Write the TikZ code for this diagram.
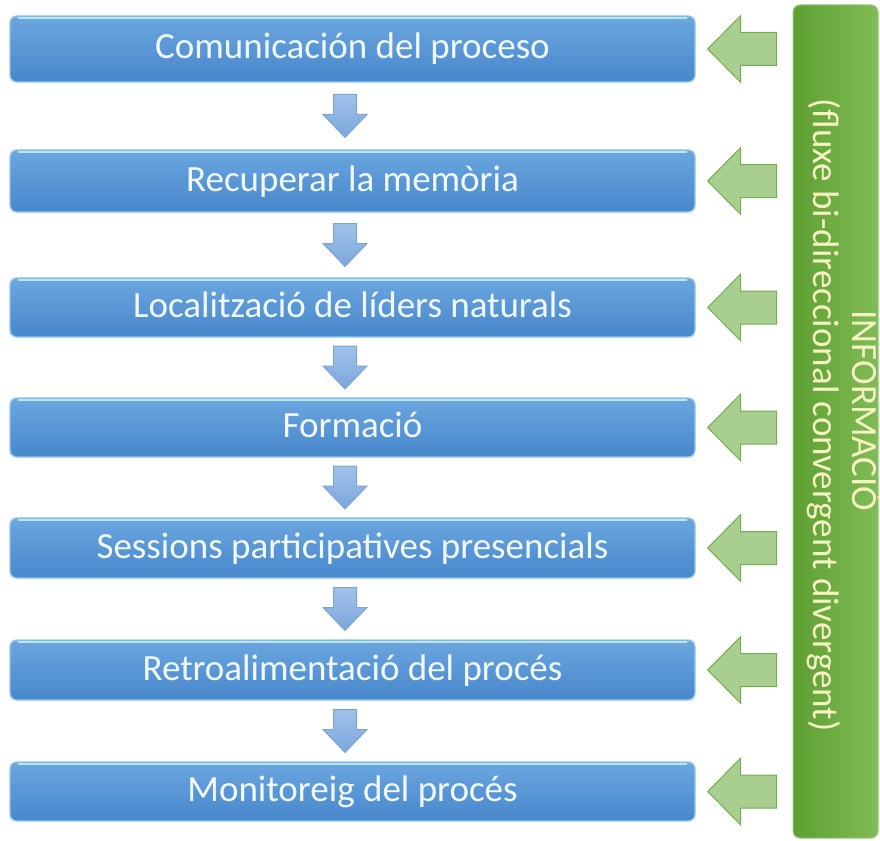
\documentclass[tikz,border=0pt]{standalone}
\usepackage{fontspec}
\setmainfont{Carlito}
\definecolor{boxtop}{HTML}{6BA6DF}
\definecolor{boxbot}{HTML}{4787CB}
\definecolor{boxedge}{HTML}{8EC6F0}
\definecolor{boxhi}{HTML}{B8E6FA}
\definecolor{btxt}{HTML}{F2F8FF}
\definecolor{barleft}{HTML}{5E9F31}
\definecolor{barright}{HTML}{80BC56}
\definecolor{bartxt}{HTML}{F6F2C4}
\definecolor{garfill}{HTML}{A9CF90}
\definecolor{garedge}{HTML}{74AD50}
\definecolor{bartop}{HTML}{A0C2EA}
\definecolor{barbot}{HTML}{7CA6DB}
\definecolor{baredge}{HTML}{7DA4D8}
\tikzset{
  stepbox/.style={rectangle, rounded corners=7pt, top color=boxtop, bottom color=boxbot,
    draw=boxedge, line width=1.4pt, minimum width=685pt, inner sep=0pt,
    text=btxt, font=\fontsize{37}{40}\selectfont, text height=20pt, text depth=0pt},
  boxhilite/.style={draw=boxhi, line width=2pt, line cap=round},
  infobar/.style={rectangle, rounded corners=7pt, left color=barleft, right color=barright,
    draw=barright!80!white, line width=1pt, minimum width=85pt, minimum height=833pt, inner sep=0pt},
  bartext/.style={rotate=-90, anchor=base, text=bartxt, font=\fontsize{37}{40}\selectfont},
  garrowstyle/.style={fill=garfill, draw=garedge, line width=1pt, line join=miter},
  barrowstyle/.style={top color=bartop, bottom color=barbot, draw=baredge, line width=1pt},
  garrow/.pic={\path[garrowstyle] (0,0) -- (33,-33.5) -- (33,-16.5) -- (69,-16.5) -- (69,16.5) -- (33,16.5) -- (33,33.5) -- cycle;},
  barrow/.pic={\path[barrowstyle] (-11.5,0) -- (11.5,0) -- (11.5,20) -- (22,20) -- (0,43) -- (-22,20) -- (-11.5,20) -- cycle;}
}
\begin{document}
\begin{tikzpicture}[x=1pt,y=-1pt]
\useasboundingbox (0,0) rectangle (880,840);
% info bar
\node[infobar] (bar) at (835.5,421.5) {};
\node[bartext] (t1) at (852,411) {INFORMACIÓ};
\node[bartext] (t2) at (813,415) {(fluxe bi-direccional convergent divergent)};
% steps
\node[stepbox, minimum height=66pt] (b1) at (352.5,49) {Comunicación del proceso};
\node[stepbox, minimum height=62pt] (b2) at (352.5,181) {Recuperar la memòria};
\node[stepbox, minimum height=59pt] (b3) at (352.5,307.5) {Localització de líders naturals};
\node[stepbox, minimum height=59pt] (b4) at (352.5,427.5) {Formació};
\node[stepbox, minimum height=60pt] (b5) at (352.5,548) {Sessions participatives presencials};
\node[stepbox, minimum height=60pt] (b6) at (352.5,670) {Retroalimentació del procés};
\node[stepbox, minimum height=59pt] (b7) at (352.5,791.5) {Monitoreig del procés};
\foreach \n in {1,...,7} {
  \path[boxhilite] ([xshift=9pt,yshift=-3pt]b\n.north west) -- ([xshift=-9pt,yshift=-3pt]b\n.north east);
}
% down arrows
\pic at (345,94.5) {barrow};
\pic at (345,223.5) {barrow};
\pic at (345,346) {barrow};
\pic at (345,466) {barrow};
\pic at (345,587.5) {barrow};
\pic at (345,709.5) {barrow};
% green arrows
\foreach \n in {1,...,7} {\pic at ([xshift=12pt]b\n.east) {garrow};}
\end{tikzpicture}
\end{document}
